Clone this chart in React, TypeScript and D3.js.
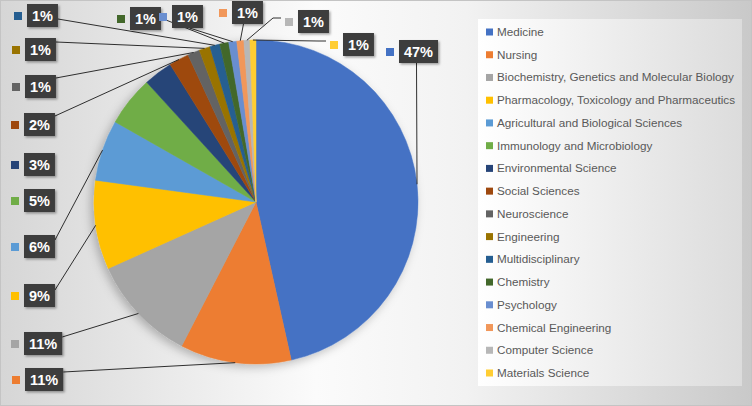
import { useMemo } from 'react'
import * as d3 from 'd3'

// subject areas, clockwise from 12 o'clock
const categories = [
  'Medicine',
  'Nursing',
  'Biochemistry, Genetics and Molecular Biology',
  'Pharmacology, Toxicology and Pharmaceutics',
  'Agricultural and Biological Sciences',
  'Immunology and Microbiology',
  'Environmental Science',
  'Social Sciences',
  'Neuroscience',
  'Engineering',
  'Multidisciplinary',
  'Chemistry',
  'Psychology',
  'Chemical Engineering',
  'Computer Science',
  'Materials Science'
]

const shares = [46.6, 11.1, 10.7, 8.9, 6.1, 5.0, 2.9, 2.0, 1.2, 1.1, 1.0, 0.9, 0.8, 0.7, 0.6, 0.6]

const colors = [
  '#4472c4', '#ed7d31', '#a5a5a5', '#ffc000', '#5b9bd5', '#70ad47', '#264478', '#9e480e',
  '#636363', '#997300', '#255e91', '#43682b', '#698ed0', '#f1975a', '#b7b7b7', '#ffcd33'
]

// hand-placed data label boxes (top-left corner), like the dragged labels in the original
type Spot = { x: number; y: number; attach: 'right' | 'bottom' | 'left' | 'none'; dy?: number; dx?: number }
const labelSpots: Spot[] = [
  { x: 399, y: 40, attach: 'bottom', dx: -2 },
  { x: 25, y: 368, attach: 'right', dy: 4 },
  { x: 24, y: 332, attach: 'right', dy: 5 },
  { x: 24, y: 284, attach: 'right', dy: 6 },
  { x: 24, y: 235, attach: 'right', dy: 5 },
  { x: 24, y: 189, attach: 'none' },
  { x: 24, y: 153, attach: 'none' },
  { x: 24, y: 113, attach: 'right', dy: 3 },
  { x: 25, y: 75, attach: 'right', dy: 3 },
  { x: 25, y: 38, attach: 'right', dy: 4 },
  { x: 27, y: 4, attach: 'right', dy: 15 },
  { x: 130, y: 7, attach: 'right', dy: 11 },
  { x: 172, y: 5, attach: 'bottom', dx: 2 },
  { x: 232, y: 1, attach: 'bottom', dx: -4 },
  { x: 298, y: 10, attach: 'left' },
  { x: 343, y: 33, attach: 'left' }
]

const W = 752
const H = 406
const cx = 256
const cy = 202
const R = 162

const labelFont = 'bold 14.5px "Liberation Sans", Arial, sans-serif'
const legendFontSize = 11.7

function textWidth(text: string, font: string) {
  const c = document.createElement('canvas').getContext('2d')
  if (!c) return text.length * 8
  c.font = font
  return c.measureText(text).width
}

export default function App() {
  const total = d3.sum(shares)
  const pct = d3.format('.0%')

  const arcs = useMemo(
    () =>
      d3
        .pie<number>()
        .sort(null)
        .value(d => d)
        .startAngle(0)
        .endAngle(2 * Math.PI)(shares),
    []
  )

  const arcGen = d3.arc<d3.PieArcDatum<number>>().innerRadius(0).outerRadius(R)

  const legendY = d3
    .scalePoint<number>()
    .domain(d3.range(categories.length))
    .range([32, 373])

  const boxH = 23
  const boxW = (t: string) => textWidth(t, labelFont) + 10

  return (
    <svg
      width={W}
      height={H}
      style={{ position: 'absolute', left: 0, top: 0, fontFamily: '"Liberation Sans", Arial, sans-serif' }}
    >
      <defs>
        <linearGradient id="bg" x1="0" x2="1" y1="0" y2="0">
          <stop offset="0%" stopColor="#d6d6d6" />
          <stop offset="42%" stopColor="#fbfbfb" />
          <stop offset="62%" stopColor="#f2f2f2" />
          <stop offset="100%" stopColor="#c9c9c9" />
        </linearGradient>
        <linearGradient id="legbg" x1="0" x2="1" y1="0" y2="0">
          <stop offset="0%" stopColor="#ffffff" />
          <stop offset="100%" stopColor="#dcdcdc" />
        </linearGradient>
        <filter id="pieShadow" x="-20%" y="-20%" width="140%" height="140%">
          <feDropShadow dx="-3" dy="3" stdDeviation="5" floodColor="#000" floodOpacity="0.25" />
        </filter>
        <filter id="boxShadow" x="-20%" y="-20%" width="150%" height="150%">
          <feDropShadow dx="1.5" dy="1.5" stdDeviation="1" floodColor="#000" floodOpacity="0.35" />
        </filter>
      </defs>

      <rect x={0.5} y={0.5} width={W - 1} height={H - 1} fill="url(#bg)" stroke="#c4c4c4" />
      <rect x={478} y={19} width={264} height={367} fill="url(#legbg)" />

      <g transform={`translate(${cx},${cy})`} filter="url(#pieShadow)">
        {arcs.map((a, i) => (
          <path key={i} d={arcGen(a) || ''} fill={colors[i]} stroke={colors[i]} strokeWidth={0.5} />
        ))}
      </g>

      {/* leader lines */}
      <g stroke="#1a1a1a" strokeWidth={0.9} fill="none">
        {arcs.map((a, i) => {
          const s = labelSpots[i]
          if (s.attach === 'none') return null
          const mid = (a.startAngle + a.endAngle) / 2
          const px = cx + R * Math.sin(mid)
          const py = cy - R * Math.cos(mid)
          const w = boxW(pct(a.value / total))
          let pts: [number, number][] = []
          if (s.attach === 'right') pts = [[s.x + w, s.y + (s.dy ?? 5)], [px, py]]
          else if (s.attach === 'bottom') pts = [[s.x + w / 2 + (s.dx ?? 0), s.y + boxH], [px, py]]
          else {
            const kx = s.x - 13
            pts = [[kx - 4, s.y + 8], [kx - 12, s.y + 8], [px, py]]
          }
          return <path key={i} d={d3.line()(pts) || ''} />
        })}
      </g>

      {/* data labels */}
      {arcs.map((a, i) => {
        const s = labelSpots[i]
        const txt = pct(a.value / total)
        const w = boxW(txt)
        return (
          <g key={i}>
            <rect x={s.x - 13} y={s.y + 8} width={8} height={8} fill={colors[i]} />
            <rect x={s.x} y={s.y} width={w} height={boxH} fill="#3d3d3d" filter="url(#boxShadow)" />
            <text
              x={s.x + w / 2}
              y={s.y + 16.5}
              textAnchor="middle"
              fill="#ffffff"
              style={{ font: labelFont }}
            >
              {txt}
            </text>
          </g>
        )
      })}

      {/* legend */}
      <g>
        {categories.map((c, i) => (
          <g key={c} transform={`translate(486,${legendY(i)})`}>
            <rect x={0} y={-3.5} width={7} height={7} fill={colors[i]} />
            <text x={11} y={4} fontSize={legendFontSize} fill="#595959">
              {c}
            </text>
          </g>
        ))}
      </g>
    </svg>
  )
}
